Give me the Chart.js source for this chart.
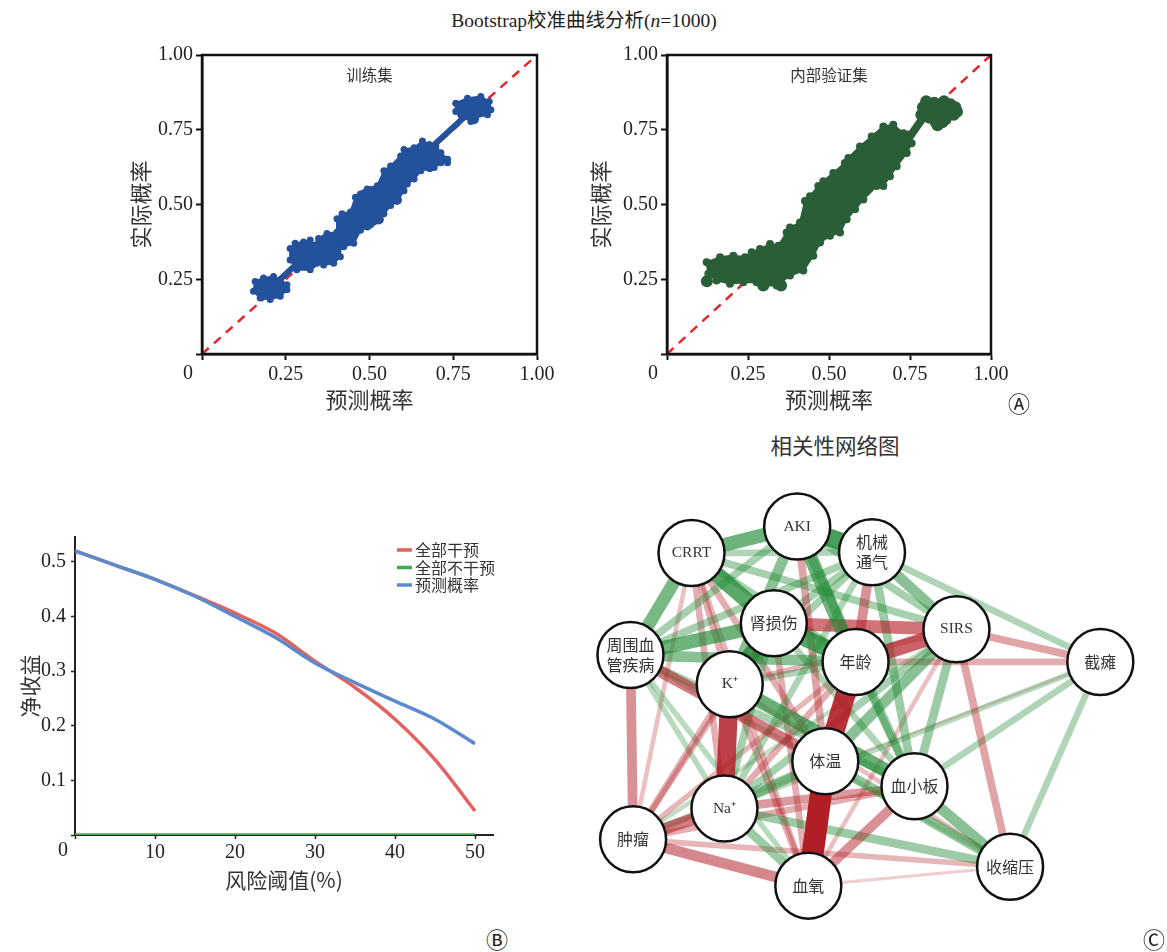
<!DOCTYPE html>
<html>
<head>
<meta charset="utf-8">
<script src="https://cdn.jsdelivr.net/npm/chart.js@4.4.1/dist/chart.umd.min.js"></script>
<style>
  body { margin: 0; background: #fff; width: 1167px; height: 952px; position: relative; overflow: hidden;
         font-family: "Liberation Serif", "Noto Sans CJK SC", serif; color: #222; }
  canvas { position: absolute; }
  .txt { position: absolute; white-space: nowrap; transform: translate(-50%, -50%); }
</style>
</head>
<body>
<div class="txt" style="left:584px;top:18px;font-size:19.5px;">Bootstrap校准曲线分析(<i>n</i>=1000)</div>
<canvas id="cTrain" width="440" height="380" style="left:120px;top:40px;"></canvas>
<canvas id="cValid" width="440" height="380" style="left:580px;top:40px;"></canvas>
<div class="txt" style="left:1019px;top:402px;font-size:22px;font-family:'Noto Sans CJK SC';">Ⓐ</div>
<canvas id="cDca" width="520" height="380" style="left:0px;top:520px;"></canvas>
<div class="txt" style="left:497px;top:938px;font-size:22px;font-family:'Noto Sans CJK SC';">Ⓑ</div>
<div class="txt" style="left:835px;top:444px;font-size:21.5px;font-family:'Noto Sans CJK SC';color:#333;">相关性网络图</div>
<canvas id="cNet" width="617" height="497" style="left:550px;top:455px;"></canvas>
<div class="txt" style="left:1154px;top:938px;font-size:22px;font-family:'Noto Sans CJK SC';">Ⓒ</div>

<script>
const SERIF = '"Liberation Serif", "Noto Sans CJK SC", serif';
const CJK = '"Noto Sans CJK SC", "Liberation Serif", sans-serif';

// =========================
// A 校准曲线数据
// =========================
const refLine = [[0, 0], [1, 1]];

const trainPath = [[0.20, 0.215], [0.305, 0.325], [0.375, 0.35], [0.43, 0.415], [0.50, 0.49],
                   [0.56, 0.55], [0.64, 0.645], [0.81, 0.82]];

// 训练集点云轮廓(逐团)
const trainBlob1 = [[0.1587, 0.2427], [0.1836, 0.254], [0.2135, 0.259], [0.2335, 0.248], [0.2535, 0.232],
                    [0.2535, 0.215], [0.2335, 0.193], [0.2036, 0.182], [0.1737, 0.1877], [0.1537, 0.2096]];
const trainBlob2 = [[0.263, 0.353], [0.278, 0.37], [0.303, 0.375], [0.323, 0.381], [0.333, 0.364],
                    [0.348, 0.386], [0.373, 0.403], [0.403, 0.408], [0.413, 0.3586], [0.413, 0.3255],
                    [0.393, 0.3036], [0.363, 0.298], [0.343, 0.3036], [0.323, 0.2815], [0.283, 0.2815],
                    [0.263, 0.3146]];
const trainBlob3 = [[0.403, 0.4525], [0.418, 0.469], [0.443, 0.4746], [0.458, 0.524], [0.473, 0.535],
                    [0.493, 0.552], [0.523, 0.563], [0.543, 0.6126], [0.563, 0.629], [0.593, 0.662],
                    [0.603, 0.684], [0.633, 0.69], [0.658, 0.712], [0.678, 0.701], [0.698, 0.695],
                    [0.713, 0.673], [0.733, 0.651], [0.733, 0.64], [0.713, 0.64], [0.693, 0.6236],
                    [0.653, 0.6126], [0.633, 0.585], [0.613, 0.5686], [0.603, 0.546], [0.583, 0.513],
                    [0.563, 0.497], [0.543, 0.469], [0.513, 0.4414], [0.493, 0.425], [0.473, 0.414],
                    [0.453, 0.37], [0.423, 0.3586], [0.403, 0.381]];
const trainBlob4 = [[0.7575, 0.8388], [0.7924, 0.8554], [0.8323, 0.861], [0.8573, 0.8444], [0.8623, 0.817],
                    [0.8523, 0.8003], [0.8124, 0.789], [0.8024, 0.778], [0.7725, 0.8], [0.7575, 0.811]];

const trainPoints = [
  [0.172, 0.215], [0.19, 0.238], [0.2, 0.222], [0.21, 0.24], [0.222, 0.228], [0.236, 0.222], [0.188, 0.2],
  [0.283, 0.335], [0.295, 0.35], [0.31, 0.296], [0.323, 0.356], [0.327, 0.3], [0.358, 0.36], [0.37, 0.385],
  [0.386, 0.39], [0.392, 0.322], [0.405, 0.385],
  [0.422, 0.44], [0.428, 0.385], [0.455, 0.46], [0.472, 0.51], [0.486, 0.535], [0.5, 0.435], [0.505, 0.545],
  [0.528, 0.45], [0.545, 0.565], [0.558, 0.582], [0.582, 0.515], [0.59, 0.58], [0.62, 0.655], [0.64, 0.675],
  [0.665, 0.692], [0.68, 0.625], [0.706, 0.662], [0.715, 0.652],
  [0.772, 0.815], [0.795, 0.842], [0.825, 0.822], [0.844, 0.82], [0.812, 0.785]
];

// 验证集点云外轮廓(上缘从左到右, 下缘从右到左)
const validUpper = [
  [0.1225, 0.3067], [0.1636, 0.3233], [0.2047, 0.329], [0.2407, 0.3233], [0.2613, 0.34], [0.287, 0.351],
  [0.318, 0.3677], [0.3436, 0.362], [0.3694, 0.4063], [0.3796, 0.423], [0.4105, 0.4396], [0.426, 0.5116],
  [0.4414, 0.528], [0.467, 0.5615], [0.4825, 0.578], [0.5133, 0.6057], [0.549, 0.639], [0.5597, 0.6555],
  [0.5957, 0.694], [0.6317, 0.7276], [0.6677, 0.761], [0.6985, 0.7664], [0.7294, 0.7386], [0.7448, 0.7276]
];
const validLower = [
  [0.755, 0.705], [0.74, 0.672], [0.709, 0.628], [0.688, 0.5947], [0.6677, 0.5615], [0.647, 0.5615],
  [0.606, 0.517], [0.5803, 0.484], [0.5545, 0.4507], [0.534, 0.4063], [0.503, 0.3953], [0.4722, 0.373],
  [0.4516, 0.3289], [0.4208, 0.279], [0.3796, 0.2625], [0.3385, 0.2292], [0.3025, 0.2292], [0.2767, 0.2403],
  [0.2356, 0.2403], [0.1944, 0.2348], [0.153, 0.246], [0.1276, 0.268]
];
const validNeck = [[0.745, 0.72], [0.80, 0.805]];
const validPoints = [
  [0.123, 0.243], [0.297, 0.229], [0.352, 0.229],
  [0.785, 0.8], [0.79, 0.825], [0.8, 0.845], [0.81, 0.79], [0.815, 0.815], [0.825, 0.84], [0.83, 0.775],
  [0.84, 0.8], [0.845, 0.825], [0.855, 0.845], [0.86, 0.785], [0.87, 0.81], [0.875, 0.835], [0.885, 0.8],
  [0.89, 0.825], [0.895, 0.81], [0.835, 0.765], [0.85, 0.775]
];

// =========================
// B 决策曲线数据
// =========================
const dcaThreshold = [0, 5, 10, 15, 20, 25, 30, 35, 40, 45, 50];
const dcaAll   = [0.52, 0.494, 0.468, 0.438, 0.406, 0.37, 0.318, 0.27, 0.212, 0.138, 0.044];
const dcaNone  = [0, 0, 0, 0, 0, 0, 0, 0, 0, 0, 0];
const dcaModel = [0.52, 0.494, 0.468, 0.437, 0.40, 0.362, 0.315, 0.279, 0.245, 0.212, 0.167];
const dcaLabels = ['全部干预', '全部不干预', '预测概率'];

// =========================
// C 相关性网络数据
// =========================
const nodeNames = ['AKI', 'CRRT', '机械\n通气', '肾损伤', 'SIRS', '周围血\n管疾病', '年龄', '截瘫',
                   'K⁺', '体温', '血小板', 'Na⁺', '肿瘤', '血氧', '收缩压'];
const nodeX = [38.2, 18.3, 52.3, 33.8, 68.2, 6.8, 49.2, 95.3, 25.5, 43.5, 60.3, 24.5, 7.3, 40.3, 78.3];
const nodeY = [92.6, 86.4, 86.6, 70.0, 68.6, 62.6, 61.0, 61.0, 55.8, 37.8, 32.0, 26.8, 19.6, 8.8, 13.2];
// [起点, 终点, 相关系数]
const edges = [
  [9, 13, -1.0], [6, 9, -0.9], [8, 11, -0.82], [0, 2, 0.8], [3, 6, 0.75], [3, 8, 0.75], [1, 3, 0.7],
  [4, 6, -0.65], [0, 1, 0.6], [0, 6, 0.6], [3, 5, 0.6], [8, 10, 0.62], [1, 5, 0.55], [3, 4, -0.55],
  [5, 9, -0.5], [11, 12, -0.5], [12, 13, -0.45], [10, 14, 0.45], [2, 4, 0.45], [5, 6, 0.45], [0, 8, 0.45],
  [4, 9, 0.45], [9, 14, 0.4], [5, 12, -0.4], [10, 13, -0.4], [2, 6, -0.4], [11, 10, -0.35], [11, 13, 0.35],
  [11, 14, 0.35], [9, 11, 0.35], [0, 10, 0.35], [2, 10, 0.35], [4, 10, 0.35], [4, 14, -0.3], [0, 5, 0.3],
  [2, 5, 0.3], [1, 6, 0.3], [1, 4, 0.3], [0, 9, -0.3], [0, 4, 0.3], [2, 3, 0.3], [2, 8, 0.3], [4, 7, -0.3],
  [4, 11, 0.3], [3, 11, 0.3], [5, 10, 0.3], [6, 10, 0.3], [1, 2, 0.25], [2, 7, 0.25], [2, 11, 0.25],
  [6, 7, -0.25], [7, 14, 0.25], [7, 10, 0.25], [1, 11, -0.25], [1, 9, -0.25], [1, 8, -0.25], [3, 13, -0.25],
  [3, 10, 0.25], [6, 11, -0.25], [6, 8, 0.25], [8, 12, -0.25], [8, 13, -0.25], [9, 12, 0.25], [10, 12, -0.25],
  [7, 11, 0.2], [1, 13, -0.2], [3, 12, -0.2], [6, 12, -0.2], [5, 11, 0.2], [5, 13, 0.2], [12, 14, -0.2],
  [4, 8, -0.2], [1, 12, -0.15], [5, 14, 0.15], [8, 14, -0.15], [4, 12, 0.15], [4, 13, -0.15], [7, 12, -0.06],
  [13, 14, -0.08]
];

// =========================
// 公共插件
// =========================
const xy = arr => arr.map(p => ({ x: p[0], y: p[1] }));

const framePlugin = {
  id: 'frame',
  afterDatasetsDraw(chart) {
    const { ctx, chartArea: a } = chart;
    ctx.save();
    ctx.strokeStyle = '#111';
    ctx.lineWidth = 2.5;
    ctx.strokeRect(a.left, a.top, a.right - a.left, a.bottom - a.top);
    ctx.restore();
  }
};

const originZero = {
  id: 'originZero',
  afterDraw(chart, args, opts) {
    const xs = chart.scales.x, ctx = chart.ctx;
    ctx.save();
    ctx.font = opts.size + 'px ' + SERIF;
    ctx.fillStyle = '#222';
    ctx.textAlign = 'center';
    ctx.textBaseline = 'middle';
    ctx.fillText('0', xs.getPixelForValue(0) - opts.dx, xs.top + opts.dy);
    ctx.restore();
  }
};

const panelCaption = {
  id: 'panelCaption',
  afterDatasetsDraw(chart, args, opts) {
    const { ctx, chartArea: a } = chart;
    ctx.save();
    ctx.font = '15.5px ' + CJK;
    ctx.fillStyle = '#333';
    ctx.textAlign = 'center';
    ctx.textBaseline = 'middle';
    ctx.fillText(opts.text, (a.left + a.right) / 2, a.top + 20);
    ctx.restore();
  }
};

function calibScales(yWidth) {
  const axis = (title, fit) => ({
    type: 'linear', min: 0, max: 1,
    afterFit: fit,
    border: { display: true, color: '#111', width: 2.5 },
    grid: { display: true, drawOnChartArea: false, drawTicks: true, tickLength: 6, tickWidth: 2, tickColor: '#111' },
    ticks: { stepSize: 0.25, padding: 3, autoSkip: false, maxRotation: 0, color: '#222',
             font: { family: SERIF, size: 20 },
             callback: v => v === 0 ? '' : v.toFixed(2) },
    title: { display: true, text: title, color: '#333', font: { family: CJK, size: 22 },
             padding: { top: 7, bottom: 7 } }
  });
  return {
    x: axis('预测概率', s => { s.height = 66; }),
    y: axis('实际概率', s => { s.width = yWidth; })
  };
}

// 点云轮廓: 填充多边形 + 轮廓顶点小圆点
function blobSets(outline, color, dot) {
  return [
    { type: 'line', data: xy(outline.concat([outline[0]])), borderColor: color, borderWidth: 2,
      backgroundColor: color, fill: 'shape', pointRadius: 0, order: 2 },
    { data: xy(outline), pointRadius: dot, pointBackgroundColor: color, pointBorderWidth: 0, order: 1 }
  ];
}

// =========================
// A 训练集
// =========================
const TRAIN_BLUE = '#23519b';
new Chart(document.getElementById('cTrain'), {
  type: 'scatter',
  data: {
    datasets: [
      { type: 'line', data: xy(refLine), borderColor: '#e3262b', borderWidth: 2.5, borderDash: [9, 7],
        pointRadius: 0, order: 3 },
      { type: 'line', data: xy(trainPath), borderColor: TRAIN_BLUE, borderWidth: 6, pointRadius: 0,
        borderJoinStyle: 'round', borderCapStyle: 'round', order: 2 }
    ].concat(
      blobSets(trainBlob1, TRAIN_BLUE, 3.5), blobSets(trainBlob2, TRAIN_BLUE, 3.5),
      blobSets(trainBlob3, TRAIN_BLUE, 3.5), blobSets(trainBlob4, TRAIN_BLUE, 3.5),
      [{ data: xy(trainPoints), pointRadius: 5, pointBackgroundColor: TRAIN_BLUE, pointBorderWidth: 0, order: 1 }]
    )
  },
  options: {
    responsive: false, animation: false, events: [],
    layout: { padding: { top: 13, right: 23, left: 0, bottom: 0 } },
    scales: calibScales(82),
    plugins: { legend: { display: false }, tooltip: { enabled: false },
               originZero: { dx: 14, dy: 20, size: 20 }, panelCaption: { text: '训练集' } }
  },
  plugins: [framePlugin, originZero, panelCaption]
});

// =========================
// A 内部验证集
// =========================
const VALID_GREEN = '#2a5e38';
new Chart(document.getElementById('cValid'), {
  type: 'scatter',
  data: {
    datasets: [
      { type: 'line', data: xy(refLine), borderColor: '#e3262b', borderWidth: 2.5, borderDash: [9, 7],
        pointRadius: 0, order: 4 },
      { type: 'line', data: xy(validNeck), borderColor: VALID_GREEN, borderWidth: 8, pointRadius: 0,
        borderCapStyle: 'round', order: 3 }
    ].concat(
      blobSets(validUpper.concat(validLower), VALID_GREEN, 4),
      [{ data: xy(validPoints), pointRadius: 6, pointBackgroundColor: VALID_GREEN, pointBorderWidth: 0, order: 1 }]
    )
  },
  options: {
    responsive: false, animation: false, events: [],
    layout: { padding: { top: 13, right: 29, left: 0, bottom: 0 } },
    scales: calibScales(87),
    plugins: { legend: { display: false }, tooltip: { enabled: false },
               originZero: { dx: 14, dy: 20, size: 20 }, panelCaption: { text: '内部验证集' } }
  },
  plugins: [framePlugin, originZero, panelCaption]
});

// =========================
// B 决策曲线
// =========================
const DCA_COLORS = ['#e2625f', '#3dae49', '#5b8bcd'];
const dcaLegend = {
  id: 'dcaLegend',
  afterDraw(chart) {
    const { ctx, chartArea: a } = chart;
    ctx.save();
    ctx.font = '16px ' + CJK;
    ctx.textBaseline = 'middle';
    chart.data.datasets.forEach((d, i) => {
      const y = a.top + 13 + i * 17.5;
      ctx.strokeStyle = d.borderColor;
      ctx.lineWidth = 3.5;
      ctx.beginPath();
      ctx.moveTo(a.left + 322, y);
      ctx.lineTo(a.left + 337, y);
      ctx.stroke();
      ctx.fillStyle = '#333';
      ctx.fillText(d.label, a.left + 340, y);
    });
    ctx.restore();
  }
};

const dcaSeries = [dcaAll, dcaNone, dcaModel];
new Chart(document.getElementById('cDca'), {
  type: 'scatter',
  data: {
    datasets: dcaSeries.map((vals, i) => ({
      label: dcaLabels[i],
      data: dcaThreshold.map((t, k) => ({ x: t, y: vals[k] })),
      showLine: true, borderColor: DCA_COLORS[i], borderWidth: 3.5, pointRadius: 0,
      cubicInterpolationMode: 'monotone', order: [1, 2, 0][i]
    }))
  },
  options: {
    responsive: false, animation: false, events: [],
    layout: { padding: { top: 15, right: 27, left: 0, bottom: 0 } },
    scales: {
      x: {
        type: 'linear', min: 0, max: 52.25,
        afterFit: s => { s.height = 65; },
        border: { display: true, color: '#2b1f1f', width: 2 },
        grid: { display: true, drawOnChartArea: false, tickLength: 4, tickWidth: 1.5, tickColor: '#2b1f1f' },
        ticks: { stepSize: 10, includeBounds: false, padding: 2, color: '#222', autoSkip: false, maxRotation: 0,
                 font: { family: SERIF, size: 20 }, callback: v => v === 0 ? '' : String(v) },
        title: { display: true, text: '风险阈值(%)', color: '#333', font: { family: CJK, size: 21 },
                 padding: { bottom: 7 } }
      },
      y: {
        type: 'linear', min: 0, max: 0.5455,
        afterFit: s => { s.width = 75; },
        border: { display: true, color: '#2b1f1f', width: 2 },
        grid: { display: true, drawOnChartArea: false, tickLength: 4, tickWidth: 1.5, tickColor: '#2b1f1f' },
        ticks: { stepSize: 0.1, includeBounds: false, padding: 5, color: '#222', autoSkip: false,
                 font: { family: SERIF, size: 20 }, callback: v => v === 0 ? '' : v.toFixed(1) },
        title: { display: true, text: '净收益', color: '#333', font: { family: CJK, size: 21 },
                 padding: { top: 17 } }
      }
    },
    plugins: { legend: { display: false }, tooltip: { enabled: false },
               originZero: { dx: 12, dy: 16, size: 20 } }
  },
  plugins: [originZero, dcaLegend]
});

// =========================
// C 相关性网络
// =========================
function edgeColor(w) {
  const a = Math.min(1, 0.15 + 0.85 * Math.abs(w));
  return w > 0 ? 'rgba(34,139,54,' + a + ')' : 'rgba(178,30,38,' + a + ')';
}

const sortedEdges = edges.slice().sort((p, q) => Math.abs(q[2]) - Math.abs(p[2]));
const edgeSets = sortedEdges.map((e, i) => ({
  type: 'line',
  data: [{ x: nodeX[e[0]], y: nodeY[e[0]] }, { x: nodeX[e[1]], y: nodeY[e[1]] }],
  borderColor: edgeColor(e[2]),
  borderWidth: 1.5 + 20.5 * Math.abs(e[2]),
  borderCapStyle: 'butt',
  pointRadius: 0,
  clip: false,
  order: i + 1
}));

const nodeLabels = {
  id: 'nodeLabels',
  afterDatasetsDraw(chart) {
    const ctx = chart.ctx;
    const pts = chart.getDatasetMeta(0).data;
    ctx.save();
    ctx.fillStyle = '#333';
    ctx.textAlign = 'center';
    ctx.textBaseline = 'middle';
    nodeNames.forEach((name, i) => {
      const lines = name.split('\n');
      const latin = /^[A-Za-z]/.test(name);
      ctx.font = (latin ? '15.5px ' + SERIF : '16px ' + CJK);
      lines.forEach((ln, k) => {
        ctx.fillText(ln, pts[i].x, pts[i].y + (k - (lines.length - 1) / 2) * 20);
      });
    });
    ctx.restore();
  }
};

new Chart(document.getElementById('cNet'), {
  type: 'scatter',
  data: {
    datasets: [{
      data: nodeX.map((x, i) => ({ x: x, y: nodeY[i] })),
      pointRadius: 33, pointBackgroundColor: '#fff', pointBorderColor: '#111', pointBorderWidth: 2.5,
      clip: false, order: 0
    }].concat(edgeSets)
  },
  options: {
    responsive: false, animation: false, events: [],
    layout: { padding: 0 },
    scales: {
      x: { type: 'linear', min: -1.667, max: 101.17, display: false },
      y: { type: 'linear', min: 1.6, max: 101, display: false }
    },
    plugins: { legend: { display: false }, tooltip: { enabled: false } }
  },
  plugins: [nodeLabels]
});
</script>
</body>
</html>
